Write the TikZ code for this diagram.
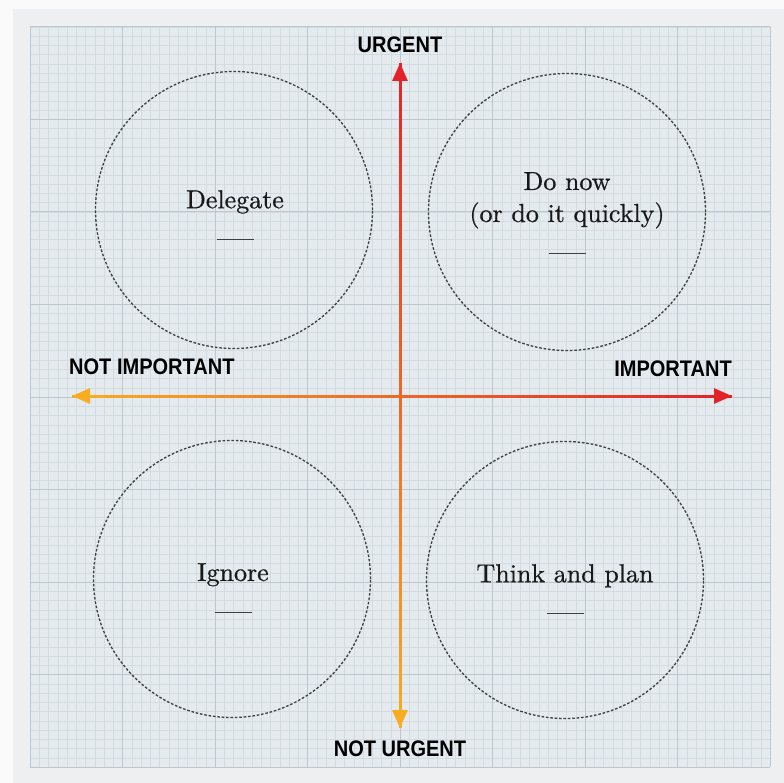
\documentclass[tikz,border=0pt]{standalone}
\usepackage{fontspec}
\usepackage{xcolor}
\usetikzlibrary{arrows.meta, calc, positioning}
\newfontfamily\axisfont{Liberation Sans}[FakeStretch=0.89]
\newfontfamily\taskfont{lmroman10-regular.otf}[FakeBold=0.6]
\definecolor{axred}{RGB}{226,34,40}
\definecolor{axorange}{RGB}{247,172,34}
\definecolor{paper}{RGB}{237,239,240}
\definecolor{gridbg}{RGB}{228,234,237}
\definecolor{gridminor}{RGB}{210,220,225}
\definecolor{gridmajor}{RGB}{188,200,207}
\definecolor{inkgrey}{RGB}{62,62,62}
\tikzset{
  zone/.style={circle, draw=inkgrey, dash pattern=on 2.6pt off 1.8pt, line width=1.3pt, minimum size=277pt, inner sep=0pt},
  tasktext/.style={font=\taskfont\fontsize{26}{32}\selectfont, text=black!90, align=center, inner sep=0pt, anchor=north},
  axislabel/.style={font=\axisfont\bfseries\fontsize{22.5}{24}\selectfont, inner sep=0pt},
  axisline/.style={line width=3pt},
  axistip/.style={-{Triangle[length=18pt, width=15pt]}}
}
\newcommand{\taskrule}{\textcolor{inkgrey}{\rule{37pt}{1.4pt}}}

\begin{document}
\begin{tikzpicture}[x=1pt, y=-1pt]
    \useasboundingbox (0,0) rectangle (784,783);
    \fill[white!98!black] (0,0) rectangle (784,783);
    \fill[paper] (13,9) rectangle (784,783);
    \fill[gridbg] (30,27) rectangle (770,767);

    % Grid paper
    \foreach \i in {0,...,80} {
        \draw[gridminor, line width=0.5pt] ({30+9.25*\i},27) -- ({30+9.25*\i},767);
        \draw[gridminor, line width=0.5pt] (30,{27+9.25*\i}) -- (770,{27+9.25*\i});
    }
    \foreach \i in {0,...,8} {
        \draw[gridmajor, line width=1pt] ({30+92.5*\i},27) -- ({30+92.5*\i},767);
        \draw[gridmajor, line width=1pt] (30,{27+92.5*\i}) -- (770,{27+92.5*\i});
    }

    % Axis ends
    \coordinate (N) at (400,63);
    \coordinate (S) at (400,728);
    \coordinate (W) at (72,396);
    \coordinate (E) at (732,396);

    % Axes, orange to red
    \foreach \k in {0,...,39} {
        \pgfmathtruncatemacro\p{100*\k/39}
        \draw[axisline, draw=axred!\p!axorange] ($(S)!{\k/40}!(N)$) -- ($(S)!{(\k+1)/40}!(N)$);
        \draw[axisline, draw=axred!\p!axorange] ($(W)!{\k/40}!(E)$) -- ($(W)!{(\k+1)/40}!(E)$);
    }
    \draw[axisline, axistip, axred] ($(N)+(0,20)$) -- (N);
    \draw[axisline, axistip, axorange] ($(S)+(0,-20)$) -- (S);
    \draw[axisline, axistip, axorange] ($(W)+(20,0)$) -- (W);
    \draw[axisline, axistip, axred] ($(E)+(-20,0)$) -- (E);

    \node[axislabel, above=10pt of N] (urgent) {URGENT};
    \node[axislabel, below=13pt of S] (noturgent) {NOT URGENT};
    \node[axislabel, above right=21pt and -3pt of W] (notimportant) {NOT IMPORTANT};
    \node[axislabel, above left=19pt and 0pt of E] (important) {IMPORTANT};

    % Quadrants
    \node[zone] (delegate) at (234,210) {};
    \node[zone] (donow) at (567,212) {};
    \node[zone] (ignore) at (232,579) {};
    \node[zone] (plan) at (565,580) {};

    \node[tasktext] (delegatetext) at (235,190) {Delegate\\\taskrule};
    \node[tasktext] (donowtext) at (567,172) {Do now\\(or do it quickly)\\\taskrule};
    \node[tasktext] (ignoretext) at (233,563) {Ignore\\\taskrule};
    \node[tasktext] (plantext) at (565,564) {Think and plan\\\taskrule};
\end{tikzpicture}
\end{document}
